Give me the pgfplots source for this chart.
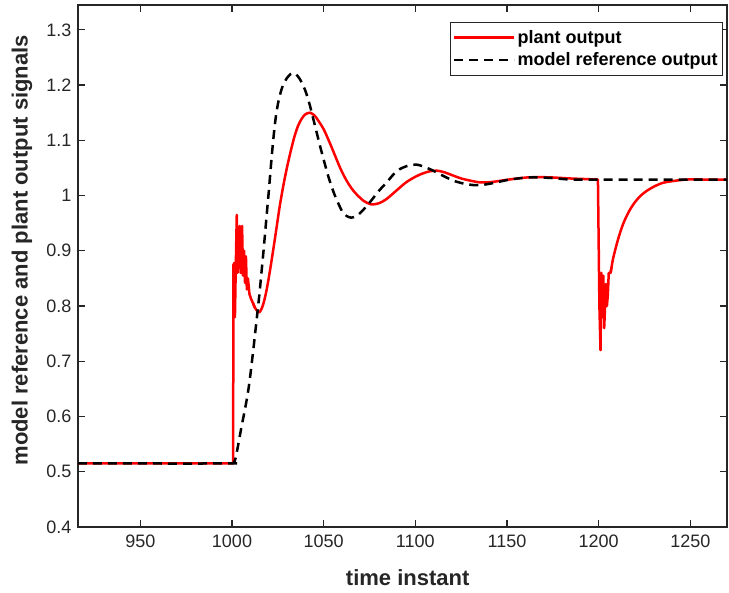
\documentclass[border=0pt]{standalone}
\usepackage{fontspec}
\setmainfont{Liberation Sans}
\usepackage{pgfplots}
\pgfplotsset{compat=1.18}
\definecolor{axgray}{RGB}{38,38,38}
\begin{document}
\begin{tikzpicture}
\useasboundingbox (-78bp,-66bp) rectangle (651bp,527bp);
\begin{axis}[
  at={(0,0)}, anchor=south west,
  width=649bp, height=522bp, scale only axis,
  xmin=916, xmax=1270, ymin=0.4, ymax=1.345,
  xtick={950,1000,1050,1100,1150,1200,1250},
  ytick={0.4,0.5,0.6,0.7,0.8,0.9,1,1.1,1.2,1.3},
  /pgf/number format/assume math mode=true,
  /pgf/number format/1000 sep={},
  tick align=inside, major tick length=7bp,
  axis line style={line width=1.2bp, draw=axgray},
  every tick/.style={line width=1.2bp, draw=axgray},
  tick label style={font=\fontsize{18bp}{20bp}\selectfont, text=axgray},
  xticklabel style={yshift=-4bp},
  yticklabel style={xshift=-3bp},
  xlabel={\bfseries time instant},
  ylabel={\bfseries model reference and plant output signals},
  label style={font=\fontsize{22bp}{24bp}\selectfont, text=axgray},
  xlabel style={at={(axis description cs:0.508,-0.0977)}, anchor=center},
  ylabel style={at={(axis description cs:-0.0863,0.53)}, anchor=center, rotate=0},
  legend style={at={(axis description cs:0.9938,0.9674)}, anchor=north east,
    draw=axgray, line width=0.8bp, font=\fontsize{18bp}{20bp}\selectfont\bfseries,
    inner xsep=3bp, inner ysep=6bp, row sep=4bp},
  legend cell align=left,
  legend image code/.code={\draw[#1] (0bp,0bp) -- (60bp,0bp);},
]
% plant output: step and early oscillation
\addplot[red, line width=2.5bp, line join=round] coordinates {
(916,0.515) (1000.6,0.515) (1000.8,0.875) (1001.3,0.878) (1001.6,0.78) (1002.0,0.86)
(1002.6,0.965) (1003.0,0.86) (1003.5,0.885) (1004.2,0.945) (1004.7,0.86) (1005.1,0.865)
(1005.5,0.945) (1006.0,0.855) (1006.6,0.90) (1007.1,0.842) (1007.6,0.89) (1008.1,0.83)
(1008.7,0.85) (1009.5,0.822) (1010.5,0.812) (1011.5,0.805) (1012.5,0.797)
};
\addlegendentry{plant output}
% plant output: smooth response
\addplot[red, line width=2.5bp, smooth, tension=0.5, forget plot] coordinates {
(1011.5,0.805) (1012.5,0.797) (1014.0,0.790) (1015.0,0.789) (1016.0,0.794) (1017.1,0.804)
(1018.5,0.823) (1019.8,0.846) (1021,0.870) (1022.5,0.902) (1024,0.935) (1026,0.980)
(1028,1.018) (1030,1.051) (1032,1.080) (1034,1.106) (1036,1.126) (1038,1.139)
(1040,1.147) (1042.5,1.150) (1045,1.145) (1047,1.136) (1050,1.120) (1053,1.098)
(1056,1.074) (1059,1.050) (1062,1.030) (1065,1.014) (1068,1.002) (1072,0.990)
(1076,0.984) (1080,0.986) (1084,0.993) (1090,1.010) (1095,1.024) (1100,1.034)
(1104,1.040) (1108,1.044) (1112,1.045) (1116,1.042) (1120,1.037) (1125,1.031)
(1130,1.027) (1135,1.024) (1140,1.024) (1145,1.026) (1151,1.029) (1162,1.033)
(1173,1.033) (1184,1.031) (1192,1.030) (1199.6,1.029)
};
% plant output: disturbance at 1200
\addplot[red, line width=2.5bp, line join=round, forget plot] coordinates {
(1199,1.029) (1199.6,1.029) (1200.4,0.80) (1201,0.72) (1201.5,0.86) (1202,0.78) (1202.5,0.855)
(1203,0.76) (1203.5,0.80) (1204,0.84) (1204.5,0.80) (1205,0.82) (1205.5,0.86)
(1206.5,0.86) (1207,0.87)
};
\addplot[red, line width=2.5bp, smooth, tension=0.5, forget plot] coordinates {
(1206.5,0.86) (1207,0.87) (1208,0.888) (1210,0.914) (1212,0.936) (1214,0.954)
(1217,0.974) (1220,0.989) (1223,1.000) (1226,1.008) (1230,1.016) (1235,1.023)
(1240,1.026) (1248,1.029) (1260,1.029) (1270,1.029)
};
\addplot[black, line width=2.5bp, dash pattern=on 9bp off 6bp, smooth, tension=0.4] coordinates {
(916,0.515) (1000,0.515) (1001,0.516) (1002,0.525) (1003,0.542) (1004,0.560)
(1005,0.578) (1006,0.595) (1007,0.612) (1008,0.630) (1009,0.650) (1010,0.675)
(1011,0.703) (1012,0.732) (1013,0.762) (1014,0.792) (1015,0.823) (1016,0.858)
(1017,0.893) (1018,0.930) (1019,0.968) (1020,1.005) (1021,1.045) (1022,1.083)
(1023,1.117) (1024,1.145) (1025,1.165) (1026,1.180) (1027,1.192) (1028,1.201)
(1030,1.213) (1032,1.220) (1033.3,1.222) (1035,1.219) (1037,1.211) (1040,1.190)
(1042.5,1.163) (1045,1.130) (1048,1.090) (1050,1.065) (1052.5,1.035) (1055,1.010)
(1057,0.993) (1060,0.972) (1062.5,0.963) (1065,0.960) (1068,0.963) (1071,0.972)
(1075,0.987) (1080,1.008) (1084.4,1.024) (1088,1.038) (1091.6,1.048) (1096,1.054)
(1100.7,1.056) (1105,1.052) (1109.8,1.045) (1115,1.036) (1120.7,1.027) (1126,1.022)
(1131.6,1.019) (1136,1.019) (1141.5,1.022) (1151.5,1.029) (1162.5,1.033) (1173.4,1.032)
(1184.3,1.029) (1195,1.029) (1270,1.029)
};
\addlegendentry{model reference output}
\end{axis}
\end{tikzpicture}
\end{document}
